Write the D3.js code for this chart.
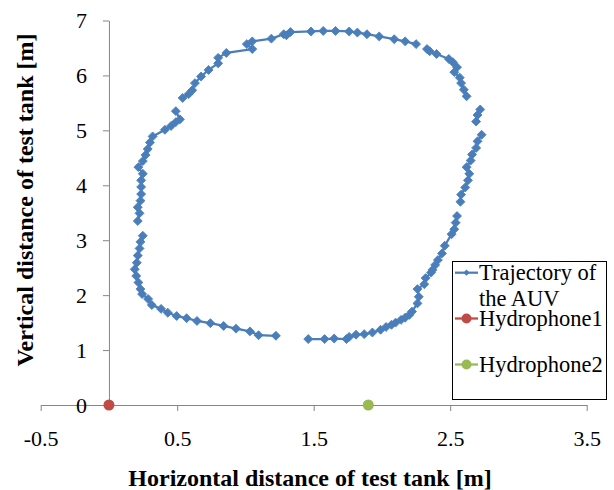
<!DOCTYPE html>
<html>
<head>
<meta charset="utf-8">
<script src="https://cdn.jsdelivr.net/npm/d3@7"></script>
<style>
  body { margin: 0; background: #fff; }
  svg text { font-family: "Liberation Serif", "Times New Roman", serif; fill: #000; }
</style>
</head>
<body>
<div id="chart"></div>
<script>
// AUV trajectory (m), null = break in the line
const trajX = [1.46, 1.58, 1.65, 1.74, 1.76, 1.81, 1.87, 1.93, 1.99, 2.03, 2.07, 2.10, 2.14, 2.17, 2.20, 2.22,
  2.26, 2.27, 2.26, 2.31, 2.32, 2.36, 2.37, 2.39, 2.41, 2.44, 2.46, 2.51, 2.53, 2.54, 2.55,
  null,
  2.575, 2.58, 2.61, 2.63, 2.64, 2.62, 2.65, 2.66, 2.69, 2.70, 2.73,
  null,
  2.69, 2.70, 2.72,
  null,
  2.62, 2.60, 2.58, 2.57, 2.53, 2.55, 2.52, 2.49, 2.40, 2.35, 2.33,
  null,
  2.25, 2.17, 2.09, 1.98, 1.89, 1.82, 1.76, 1.66, 1.57, 1.48, 1.33, 1.30, 1.28, 1.19, 1.05, 1.01, 1.05,
  0.86, 0.80, 0.80, 0.73, 0.675, 0.63, 0.61, 0.584, 0.54,
  null,
  0.49, 0.52, 0.49, 0.455, 0.41, 0.32, 0.30, 0.284, 0.268, 0.248, 0.216, 0.248, 0.236, 0.236, 0.236,
  0.231, 0.211, 0.224, 0.211,
  null,
  0.248, 0.231, 0.224, 0.211, 0.204, 0.189, 0.20, 0.216, 0.231, 0.243, 0.287, 0.314, 0.382, 0.431,
  0.496, 0.569, 0.645, 0.743, 0.84, 0.931, 1.033, 1.096, 1.223];
const trajY = [1.20, 1.20, 1.21, 1.20, 1.24, 1.28, 1.29, 1.32, 1.37, 1.42, 1.46, 1.50, 1.55, 1.59, 1.64, 1.70,
  1.85, 1.97, 2.11, 2.20, 2.31, 2.41, 2.46, 2.55, 2.64, 2.76, 2.90, 3.11, 3.20, 3.32, 3.44,
  null,
  3.70, 3.83, 3.96, 4.09, 4.21, 4.33, 4.45, 4.56, 4.68, 4.80, 4.92,
  null,
  5.16, 5.28, 5.38,
  null,
  5.62, 5.74, 5.86, 5.96, 6.06, 6.15, 6.24, 6.30, 6.39, 6.44, 6.48,
  null,
  6.57, 6.62, 6.66, 6.71, 6.75, 6.78, 6.80, 6.81, 6.81, 6.80, 6.79, 6.73, 6.75, 6.67, 6.62, 6.57, 6.48,
  6.41, 6.32, 6.22, 6.10, 5.98, 5.86, 5.73, 5.66, 5.59,
  null,
  5.35, 5.20, 5.15, 5.08, 5.01, 4.89, 4.78, 4.66, 4.55, 4.44, 4.33, 4.21, 4.09, 3.97, 3.84,
  3.72, 3.60, 3.49, 3.35,
  null,
  3.08, 2.97, 2.85, 2.72, 2.59, 2.47, 2.35, 2.23, 2.11, 2.02, 1.93, 1.82, 1.75, 1.68,
  1.62, 1.58, 1.53, 1.49, 1.44, 1.39, 1.34, 1.27, 1.26];

const hydro1X = [0];
const hydro1Y = [0];
const hydro2X = [1.9];
const hydro2Y = [0];

const xTicks = [-0.5, 0.5, 1.5, 2.5, 3.5];
const yTicks = [0, 1, 2, 3, 4, 5, 6, 7];
const legendNames = ['Trajectory of|the AUV', 'Hydrophone1', 'Hydrophone2'];

const width = 614, height = 490;
const blue = '#4a7ebb', red = '#be4b48', green = '#98b954', axisGrey = '#868686';
const serif = '"Liberation Serif", "Times New Roman", serif';

const svg = d3.select('#chart')
  .append('svg')
  .attr('width', width)
  .attr('height', height);

svg.append('rect').attr('width', width).attr('height', height).attr('fill', '#fff');

const x = d3.scaleLinear().domain([-0.5, 3.5]).range([40.7, 586.7]);
const y = d3.scaleLinear().domain([0, 7]).range([405, 20.5]);

// axes
const xAxis = svg.append('g')
  .attr('transform', `translate(0,${y(0)})`)
  .call(d3.axisBottom(x).tickValues(xTicks).tickSize(6).tickPadding(19)
    .tickFormat(d3.format('.1f')).tickSizeOuter(0));
const yAxis = svg.append('g')
  .attr('transform', `translate(${x(0)},0)`)
  .call(d3.axisLeft(y).tickValues(yTicks).tickSize(6).tickPadding(16)
    .tickFormat(d3.format('d')).tickSizeOuter(0));

[xAxis, yAxis].forEach((g) => {
  g.attr('font-family', serif).attr('font-size', 22);
  g.select('.domain').attr('stroke', axisGrey).attr('stroke-width', 1);
  g.selectAll('.tick line').attr('stroke', axisGrey);
  g.selectAll('.tick text').attr('fill', '#000');
});
xAxis.selectAll('.tick text').text((d) => (d < 0 ? '-' : '') + d3.format('.1f')(Math.abs(d)));
yAxis.selectAll('.tick text').attr('dy', '0.34em');

// axis titles
svg.append('text')
  .attr('x', 310)
  .attr('y', 486)
  .attr('text-anchor', 'middle')
  .attr('font-size', 24)
  .attr('font-weight', 'bold')
  .text('Horizontal distance of test tank [m]');
svg.append('text')
  .attr('transform', 'translate(33,200) rotate(-90)')
  .attr('text-anchor', 'middle')
  .attr('font-size', 24)
  .attr('font-weight', 'bold')
  .text('Vertical distance of test tank [m]');

// trajectory
const traj = trajX.map((d, i) => ({ x: d, y: trajY[i] }));
const line = d3.line()
  .defined((d) => d.x !== null && d.y !== null)
  .x((d) => x(d.x))
  .y((d) => y(d.y));
svg.append('path')
  .datum(traj)
  .attr('d', line)
  .attr('fill', 'none')
  .attr('stroke', blue)
  .attr('stroke-width', 2.25)
  .attr('stroke-linejoin', 'round');

const diamond = d3.symbol().type(d3.symbolSquare).size(40);
svg.append('g')
  .selectAll('path')
  .data(traj.filter((d) => d.x !== null))
  .enter()
  .append('path')
  .attr('d', diamond)
  .attr('transform', (d) => `translate(${x(d.x)},${y(d.y)}) rotate(45)`)
  .attr('fill', blue)
  .attr('stroke', blue)
  .attr('stroke-width', 0.8);

// hydrophones
svg.append('circle').attr('cx', x(hydro1X[0])).attr('cy', y(hydro1Y[0])).attr('r', 5.5).attr('fill', red);
svg.append('circle').attr('cx', x(hydro2X[0])).attr('cy', y(hydro2Y[0])).attr('r', 5.5).attr('fill', green);

// legend
const legend = svg.append('g');
legend.append('rect')
  .attr('x', 452.5)
  .attr('y', 261.5)
  .attr('width', 154)
  .attr('height', 138)
  .attr('fill', '#fff')
  .attr('stroke', '#000')
  .attr('stroke-width', 1);
const legendRows = [
  { y: 272.7, color: blue, mark: 'diamond' },
  { y: 318.5, color: red, mark: 'circle' },
  { y: 364.5, color: green, mark: 'circle' },
];
legendRows.forEach((r, i) => {
  legend.append('line')
    .attr('x1', 455).attr('x2', 478)
    .attr('y1', r.y).attr('y2', r.y)
    .attr('stroke', r.color)
    .attr('stroke-width', 2.25);
  if (r.mark === 'diamond') {
    legend.append('path')
      .attr('d', d3.symbol().type(d3.symbolSquare).size(20))
      .attr('transform', `translate(466.5,${r.y}) rotate(45)`)
      .attr('fill', r.color);
  } else {
    legend.append('circle').attr('cx', 466.5).attr('cy', r.y).attr('r', 5).attr('fill', r.color);
  }
  const lines = legendNames[i].split('|');
  lines.forEach((t, j) => {
    legend.append('text')
      .attr('x', 479)
      .attr('y', r.y + 7.5 + j * 26)
      .attr('font-size', 22.5)
      .text(t);
  });
});
</script>
</body>
</html>
